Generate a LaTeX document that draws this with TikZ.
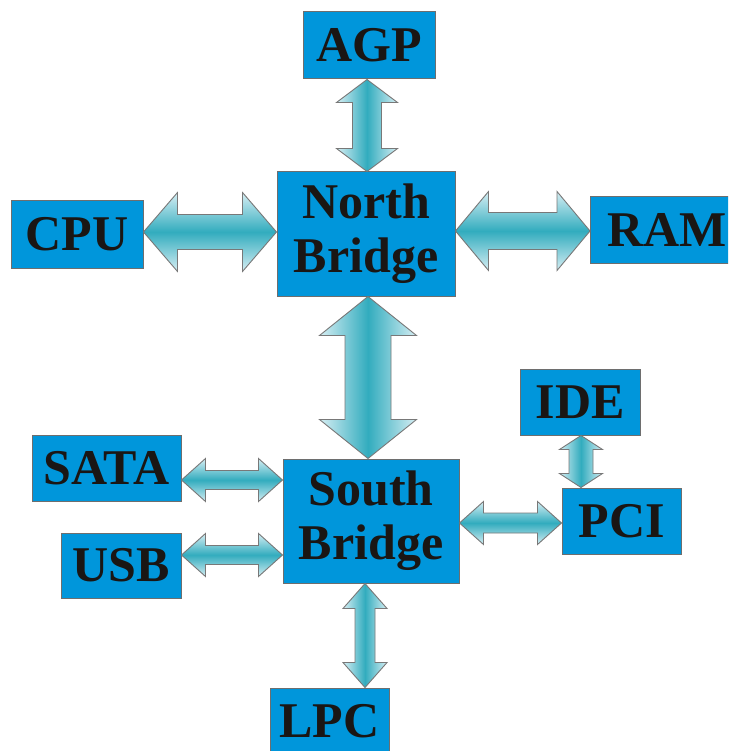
\documentclass[tikz,border=0pt]{standalone}
\usepackage{fontspec}
\setmainfont{Liberation Serif}
\usetikzlibrary{calc}
\definecolor{boxblue}{RGB}{0,150,219}
\definecolor{boxline}{RGB}{110,110,110}
\definecolor{arrowlight}{RGB}{214,238,243}
\definecolor{arrowdark}{RGB}{50,172,190}
\definecolor{arrowline}{RGB}{120,120,120}
\definecolor{txt}{RGB}{26,22,20}
\tikzset{
  blockbox/.style={draw=boxline, fill=boxblue, line width=1pt, inner sep=0pt, align=center,
    text=txt, font=\fontsize{50}{54}\selectfont\bfseries},
  arrowshapeh/.style={draw=arrowline, line width=0.9pt, line join=miter,
    top color=arrowlight, bottom color=arrowlight, middle color=arrowdark},
  arrowshapev/.style={draw=arrowline, line width=0.9pt, line join=miter,
    left color=arrowlight, right color=arrowlight, middle color=arrowdark}
}
% horizontal double arrow: left node, right node, y, head half, shaft half, head length
\newcommand\hdarrow[6]{%
  \path[arrowshapeh] let \p1=(#1.east), \p2=(#2.west) in
    (\x1,-#3pt) -- (\x1+#6pt,-#3pt+#4pt) -- (\x1+#6pt,-#3pt+#5pt) -- (\x2-#6pt,-#3pt+#5pt)
    -- (\x2-#6pt,-#3pt+#4pt) -- (\x2,-#3pt) -- (\x2-#6pt,-#3pt-#4pt) -- (\x2-#6pt,-#3pt-#5pt)
    -- (\x1+#6pt,-#3pt-#5pt) -- (\x1+#6pt,-#3pt-#4pt) -- cycle;}
% vertical double arrow: top node, bottom node, x, head half, shaft half, head length
\newcommand\vdarrow[6]{%
  \path[arrowshapev] let \p1=(#1.south), \p2=(#2.north) in
    (#3pt,\y1) -- (#3pt+#4pt,\y1-#6pt) -- (#3pt+#5pt,\y1-#6pt) -- (#3pt+#5pt,\y2+#6pt)
    -- (#3pt+#4pt,\y2+#6pt) -- (#3pt,\y2) -- (#3pt-#4pt,\y2+#6pt) -- (#3pt-#5pt,\y2+#6pt)
    -- (#3pt-#5pt,\y1-#6pt) -- (#3pt-#4pt,\y1-#6pt) -- cycle;}
\begin{document}
\begin{tikzpicture}[x=1pt,y=-1pt]
\useasboundingbox (0,0) rectangle (728,751);
\begin{scope}
\clip (0,0) rectangle (728,751);
\fill[white] (0,0) rectangle (728,751);

\node[blockbox, minimum width=132pt, minimum height=67pt] (agp) at (369,45.5) {AGP};
\node[blockbox, minimum width=178pt, minimum height=124pt] (nb) at (366,234) {North\\Bridge};
\node[blockbox, minimum width=132pt, minimum height=67pt] (cpu) at (77,234.5) {CPU};
\node[blockbox, minimum width=180pt, minimum height=66pt, anchor=west] (ram) at (590,230) {\hspace*{17pt}RAM\hspace*{44pt}};
\node[blockbox, minimum width=176pt, minimum height=124pt] (sb) at (371,521) {South\\Bridge};
\node[blockbox, minimum width=149pt, minimum height=66pt] (sata) at (106.5,468) {SATA};
\node[blockbox, minimum width=120pt, minimum height=65pt] (usb) at (121,565.5) {USB};
\node[blockbox, minimum width=120pt, minimum height=66pt] (ide) at (580,402) {IDE};
\node[blockbox, minimum width=119pt, minimum height=66pt] (pci) at (621.5,521) {PCI};
\node[blockbox, minimum width=119pt, minimum height=66pt] (lpc) at (329.5,721) {LPC};

\vdarrow{agp}{nb}{367}{30.5}{14.5}{23}
\hdarrow{cpu}{nb}{232}{39.5}{17.5}{34}
\hdarrow{nb}{ram}{231}{39.5}{18.5}{33}
\vdarrow{nb}{sb}{368}{48.5}{23}{39}
\hdarrow{sata}{sb}{480}{21.5}{9.5}{24}
\hdarrow{usb}{sb}{555}{21.5}{9.5}{24}
\hdarrow{sb}{pci}{523}{21.5}{10}{24}
\vdarrow{ide}{pci}{581}{21.5}{12}{14}
\vdarrow{sb}{lpc}{365}{22}{10}{25}
\end{scope}
\end{tikzpicture}
\end{document}
